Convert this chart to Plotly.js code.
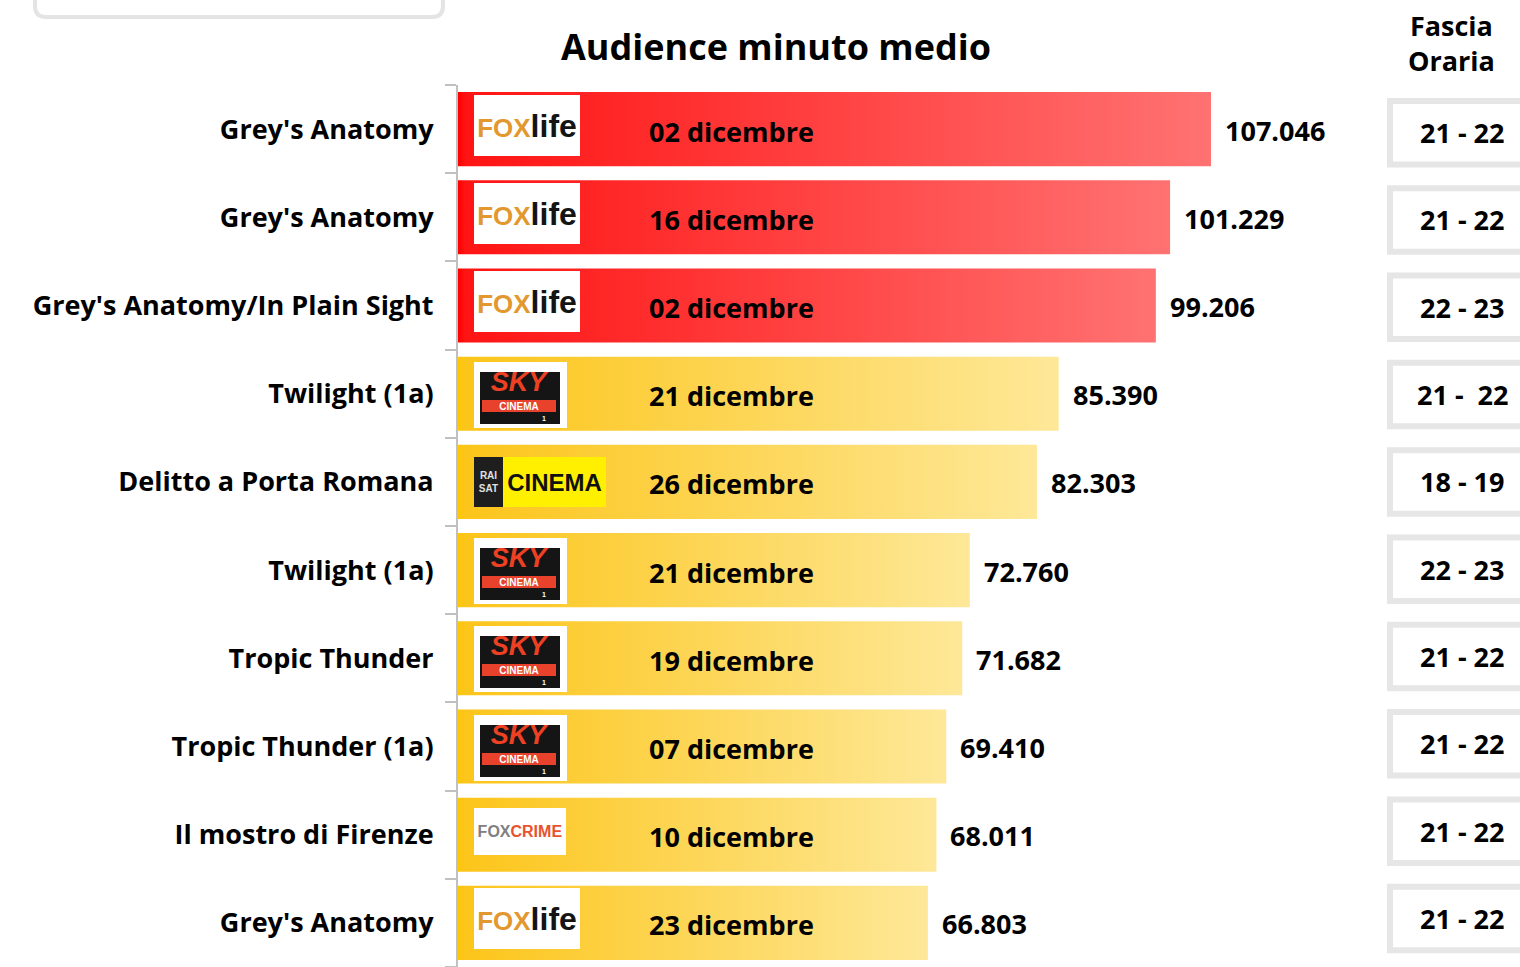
<!DOCTYPE html>
<html>
<head>
<meta charset="utf-8">
<script src="https://cdn.plot.ly/plotly-3.0.1.min.js"></script>
<style>html,body{margin:0;padding:0;background:#fff;}#chart{width:1520px;height:967px;}</style>
</head>
<body>
<div id="chart"></div>
<script>
// ---- data ----
const shows = ["Grey's Anatomy", "Grey's Anatomy", "Grey's Anatomy/In Plain Sight", "Twilight (1a)", "Delitto a Porta Romana", "Twilight (1a)", "Tropic Thunder", "Tropic Thunder (1a)", "Il mostro di Firenze", "Grey's Anatomy"];
const audience = [107046, 101229, 99206, 85390, 82303, 72760, 71682, 69410, 68011, 66803];
const dates = ["02 dicembre", "16 dicembre", "02 dicembre", "21 dicembre", "26 dicembre", "21 dicembre", "19 dicembre", "07 dicembre", "10 dicembre", "23 dicembre"];
const channels = ["FOX life", "FOX life", "FOX life", "SKY CINEMA", "RAI SAT CINEMA", "SKY CINEMA", "SKY CINEMA", "SKY CINEMA", "FOX CRIME", "FOX life"];
const slots = ["21 - 22", "21 - 22", "22 - 23", "21 -\u00a0 22", "18 - 19", "22 - 23", "21 - 22", "21 - 22", "21 - 22", "21 - 22"];
const chartTitle = "Audience minuto medio";
const slotHeader = "Fascia<br>Oraria";

// ---- helpers ----
const FONT = '"Open Sans", Lato, sans-serif';
const LOGO = '"Liberation Sans", Arial, sans-serif';
function fmt(v) { return String(v).replace(/\B(?=(\d{3})+(?!\d))/g, '.'); }

const W = 1520, H = 967, L = 458, T = 85;
const plotW = W - L, plotH = H - T;
const pxPerUnit = 753 / 107046;
const xMax = plotW / pxPerUnit;
const px2paperX = p => (p - L) / plotW;
const px2paperY = p => (H - p) / plotH;

const n = shows.length;
const idx = shows.map((_, i) => i);
const half = 0.42;

const traces = audience.map((v, i) => {
  const red = i < 3;
  return {
    type: 'scatter', mode: 'lines',
    x: [0, v, v, 0, 0],
    y: [i - half, i - half, i + half, i + half, i - half],
    fill: 'toself',
    line: {width: 0, color: 'rgba(0,0,0,0)'},
    fillgradient: {
      type: 'horizontal',
      colorscale: red
        ? [[0, '#ff0000'], [0.01, '#ff1414'], [1, '#ff7272']]
        : [[0, '#ffc800'], [0.01, '#fcc51a'], [1, '#fee898']]
    },
    hoverinfo: 'skip', showlegend: false
  };
});

const annotations = [];
const baseAnn = {showarrow: false, borderpad: 0, borderwidth: 0};

// logos
function box(i, left, dy, w, h, bg, text, font) {
  annotations.push(Object.assign({}, baseAnn, {
    xref: 'x', yref: 'y', x: 0, y: i, xanchor: 'left', yanchor: 'middle',
    xshift: left, yshift: -dy, width: w, height: h,
    bgcolor: bg || 'rgba(0,0,0,0)', text: text || ' ',
    font: font || {size: 10}, align: 'center', valign: 'middle'
  }));
}
channels.forEach((ch, i) => {
  if (ch === 'FOX life') {
    box(i, 16, -4, 106, 61, '#ffffff',
      '<span style="color:#e3982f">FOX</span><span style="color:#141414;font-size:32px">life</span>',
      {family: LOGO, size: 26, weight: 700});
  } else if (ch === 'SKY CINEMA') {
    box(i, 16, 1, 93, 66, '#ffffff');
    box(i, 22, 4, 80, 52, '#151515');
    box(i, 22, -12, 80, 26, null, '<i>SKY</i>', {family: LOGO, size: 27, weight: 700, color: '#ee4123'});
    box(i, 24, 12, 74, 12, '#e8412c', 'CINEMA', {family: LOGO, size: 10, weight: 700, color: '#ffffff'});
    box(i, 80, 24, 12, 8, null, '1', {family: LOGO, size: 7, weight: 700, color: '#ffffff'});
  } else if (ch === 'RAI SAT CINEMA') {
    box(i, 16, 0, 29, 50, '#1e1e1e', 'RAI<br>SAT', {family: LOGO, size: 10, weight: 700, color: '#e0e0e0'});
    box(i, 45, 0, 103, 50, '#fff000', 'CINEMA', {family: LOGO, size: 24, weight: 700, color: '#111111'});
  } else if (ch === 'FOX CRIME') {
    box(i, 16, -3, 92, 47, '#ffffff',
      '<span style="color:#808080">FOX</span><span style="color:#e8532f">CRIME</span>',
      {family: LOGO, size: 16, weight: 700});
  }
});

// dates
dates.forEach((d, i) => {
  annotations.push(Object.assign({}, baseAnn, {
    xref: 'paper', yref: 'y', x: px2paperX(731), y: i, xanchor: 'center', yanchor: 'middle',
    yshift: -2, text: d, font: {family: FONT, size: 27, weight: 700, color: '#000'}
  }));
});

// values
audience.forEach((v, i) => {
  annotations.push(Object.assign({}, baseAnn, {
    xref: 'x', yref: 'y', x: v, y: i, xanchor: 'left', yanchor: 'middle',
    xshift: 14, yshift: -1, text: fmt(v), font: {family: FONT, size: 27, weight: 700, color: '#000'}
  }));
});

// slot column
const shapes = [];
const slotY = i => 0.04 + i * 0.99;
slots.forEach((s, i) => {
  const yc = slotY(i);
  shapes.push({
    type: 'rect', xref: 'paper', yref: 'y',
    x0: px2paperX(1390), x1: px2paperX(1560), y0: yc - 0.36, y1: yc + 0.36,
    line: {color: '#e6e6e6', width: 6}, fillcolor: '#ffffff'
  });
  annotations.push(Object.assign({}, baseAnn, {
    xref: 'paper', yref: 'y', x: px2paperX(1462), y: yc, xanchor: 'center', yanchor: 'middle',
    text: s, font: {family: FONT, size: 27, weight: 700, color: '#000'}
  }));
});
annotations.push(Object.assign({}, baseAnn, {
  xref: 'paper', yref: 'paper', x: px2paperX(1451), y: px2paperY(43), xanchor: 'center', yanchor: 'middle',
  text: slotHeader, font: {family: FONT, size: 27, weight: 700, color: '#000'}
}));

// partial rounded box at the top left
const X = px2paperX, Y = px2paperY;
shapes.push({
  type: 'path', xref: 'paper', yref: 'paper',
  path: `M ${X(35)},${Y(-6)} L ${X(35)},${Y(6)} Q ${X(35)},${Y(17)} ${X(46)},${Y(17)} L ${X(432)},${Y(17)} Q ${X(443)},${Y(17)} ${X(443)},${Y(6)} L ${X(443)},${Y(-6)}`,
  line: {color: '#e4e4e4', width: 4}
});

const minorVals = [];
for (let k = 0; k <= n; k++) minorVals.push(k - 0.5);

const layout = {
  width: W, height: H,
  margin: {l: L, r: 0, t: T, b: 0, pad: 0},
  paper_bgcolor: '#ffffff', plot_bgcolor: 'rgba(0,0,0,0)',
  title: {
    text: chartTitle, xref: 'paper', x: px2paperX(776), xanchor: 'center',
    yref: 'container', y: 1 - 47 / H, yanchor: 'middle',
    font: {family: FONT, size: 36, weight: 700, color: '#000'}
  },
  xaxis: {range: [0, xMax], visible: false, fixedrange: true},
  yaxis: {
    range: [n - 0.5, -0.5], tickmode: 'array', tickvals: idx, ticktext: shows,
    ticks: '', showgrid: false, zeroline: false,
    showline: true, linecolor: '#c0c0c0', linewidth: 2,
    ticklabelstandoff: 17,
    tickfont: {family: FONT, size: 27, weight: 700, color: '#000'},
    minor: {tickmode: 'array', tickvals: minorVals, ticks: 'outside', ticklen: 11, tickwidth: 2, tickcolor: '#c0c0c0', showgrid: false},
    fixedrange: true
  },
  shapes: shapes,
  annotations: annotations,
  showlegend: false
};

Plotly.newPlot('chart', traces, layout, {displayModeBar: false, staticPlot: true});
</script>
</body>
</html>
